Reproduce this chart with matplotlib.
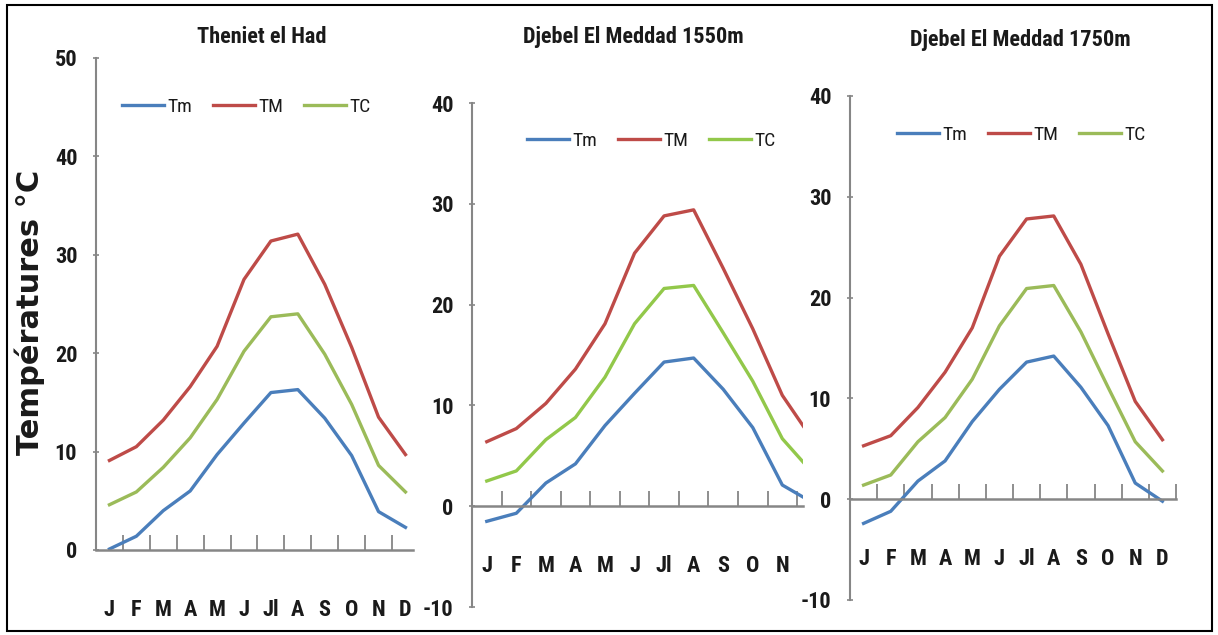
import matplotlib
matplotlib.use("Agg")
import matplotlib.pyplot as plt
from matplotlib.patches import Rectangle
import numpy as np

months = ['J', 'F', 'M', 'A', 'M', 'J', 'Jl', 'A', 'S', 'O', 'N', 'D']
series_names = ['Tm', 'TM', 'TC']

titles = ['Theniet el Had', 'Djebel El Meddad 1550m', 'Djebel El Meddad 1750m']

theniet_tm_min = [0.1, 1.4, 4.0, 6.0, 9.7, 12.9, 16.0, 16.3, 13.4, 9.6, 3.9, 2.3]
theniet_tm_max = [9.1, 10.5, 13.2, 16.6, 20.7, 27.5, 31.4, 32.1, 27.0, 20.6, 13.5, 9.7]
theniet_tc = [4.6, 5.9, 8.4, 11.4, 15.3, 20.2, 23.7, 24.0, 19.9, 14.8, 8.6, 5.9]

m1550_tm_min = [-1.5, -0.7, 2.3, 4.2, 8.0, 11.2, 14.3, 14.7, 11.6, 7.8, 2.1, 0.4]
m1550_tm_max = [6.4, 7.7, 10.2, 13.6, 18.1, 25.1, 28.8, 29.4, 23.6, 17.6, 11.0, 6.7]
m1550_tc = [2.5, 3.5, 6.6, 8.8, 12.8, 18.1, 21.6, 21.9, 17.2, 12.4, 6.7, 3.4]

m1750_tm_min = [-2.4, -1.2, 1.8, 3.8, 7.7, 10.9, 13.6, 14.2, 11.1, 7.3, 1.6, -0.2]
m1750_tm_max = [5.3, 6.3, 9.1, 12.6, 17.0, 24.1, 27.8, 28.1, 23.3, 16.4, 9.7, 5.9]
m1750_tc = [1.4, 2.4, 5.7, 8.1, 11.9, 17.2, 20.9, 21.2, 16.6, 11.1, 5.7, 2.8]

y_ticks_1 = [0, 10, 20, 30, 40, 50]
y_ticks_23 = [-10, 0, 10, 20, 30, 40]

NARROW = ['Roboto Condensed', 'DejaVu Sans']

W, H = 1218, 635
fig = plt.figure(figsize=(W / 100, H / 100), dpi=100)
fig.patch.set_facecolor('white')

AX_COLOR = '#868686'
TXT = '#1a1a1a'
BLUE = '#4A7EBB'
RED = '#BE4B48'
GREEN = '#9BBB59'
GREEN2 = '#92C84A'


def px_axes(left, right, top, bottom):
    return fig.add_axes([left / W, 1 - bottom / H, (right - left) / W, (bottom - top) / H])


panels = [
    dict(rect=(96, 413, 58, 550), ylim=(0, 50), yticks=y_ticks_1, xlim=(-0.5, 11.28),
         data=(theniet_tm_min, theniet_tm_max, theniet_tc), green=GREEN,
         title=titles[0], title_xy=(262, 37), leg_xy=(122, 107)),
    dict(rect=(472, 803, 103, 607), ylim=(-10, 40), yticks=y_ticks_23, xlim=(-0.5, 10.7),
         data=(m1550_tm_min, m1550_tm_max, m1550_tc), green=GREEN2,
         title=titles[1], title_xy=(633, 37), leg_xy=(527, 141)),
    dict(rect=(850, 1176, 96, 600), ylim=(-10, 40), yticks=y_ticks_23, xlim=(-0.5, 11.5),
         data=(m1750_tm_min, m1750_tm_max, m1750_tc), green=GREEN,
         title=titles[2], title_xy=(1020, 40), leg_xy=(897, 135)),
]

x = np.arange(len(months))
for p in panels:
    ax = px_axes(*p['rect'])
    colors = [BLUE, RED, p['green']]
    for vals, name, c in zip(p['data'], series_names, colors):
        ax.plot(x, vals, color=c, lw=2.4, label=name, solid_joinstyle='round')
    for s in ['top', 'right']:
        ax.spines[s].set_visible(False)
    ax.spines['left'].set_color(AX_COLOR)
    ax.spines['left'].set_linewidth(1.5)
    ax.spines['bottom'].set_color(AX_COLOR)
    ax.spines['bottom'].set_linewidth(1.8)
    ax.spines['bottom'].set_position(('data', 0))
    ax.set_yticks(p['yticks'])
    ax.set_yticklabels([str(v) for v in p['yticks']], fontsize=16, fontweight='bold',
                       family=NARROW, color=TXT)
    ax.tick_params(axis='y', direction='inout', length=5, width=1.2, color=AX_COLOR, pad=11)
    ax.set_xticks(x)
    ax.set_xticklabels(months, fontsize=16, fontweight='bold', family=NARROW, color=TXT)
    ax.tick_params(axis='x', which='major', length=0, pad=35)
    ax.set_xticks(np.arange(0.5, 12, 1), minor=True)
    ax.tick_params(axis='x', which='minor', direction='in', length=11, width=1.3, color=AX_COLOR)
    ax.set_xlim(*p['xlim'])
    ax.set_ylim(*p['ylim'])
    ax.patch.set_alpha(0)

    tx, ty = p['title_xy']
    fig.text(tx / W, 1 - ty / H, p['title'], ha='center', va='center',
             fontsize=16, fontweight='bold', color=TXT, family=NARROW)

    lx, ly = p['leg_xy']
    leg = ax.legend(loc='center left', bbox_to_anchor=(lx / W, 1 - ly / H),
                    bbox_transform=fig.transFigure, ncol=3, frameon=False,
                    borderpad=0, borderaxespad=0, handlelength=2.15, handletextpad=0.2,
                    columnspacing=1.05, prop=dict(size=14, family=NARROW))
    for t in leg.get_texts():
        t.set_color(TXT)

fig.text(30 / W, 1 - 312 / H, 'Températures °C', rotation=90, ha='center', va='center',
         fontsize=22, fontweight='bold', family='DejaVu Sans', color=TXT)

fig.patches.append(Rectangle((7 / W, 1 - 631 / H), (1212 - 7) / W, (631 - 5) / H,
                             transform=fig.transFigure, fill=False, edgecolor='black', lw=1.5))

fig.savefig('out.png', dpi=100)
